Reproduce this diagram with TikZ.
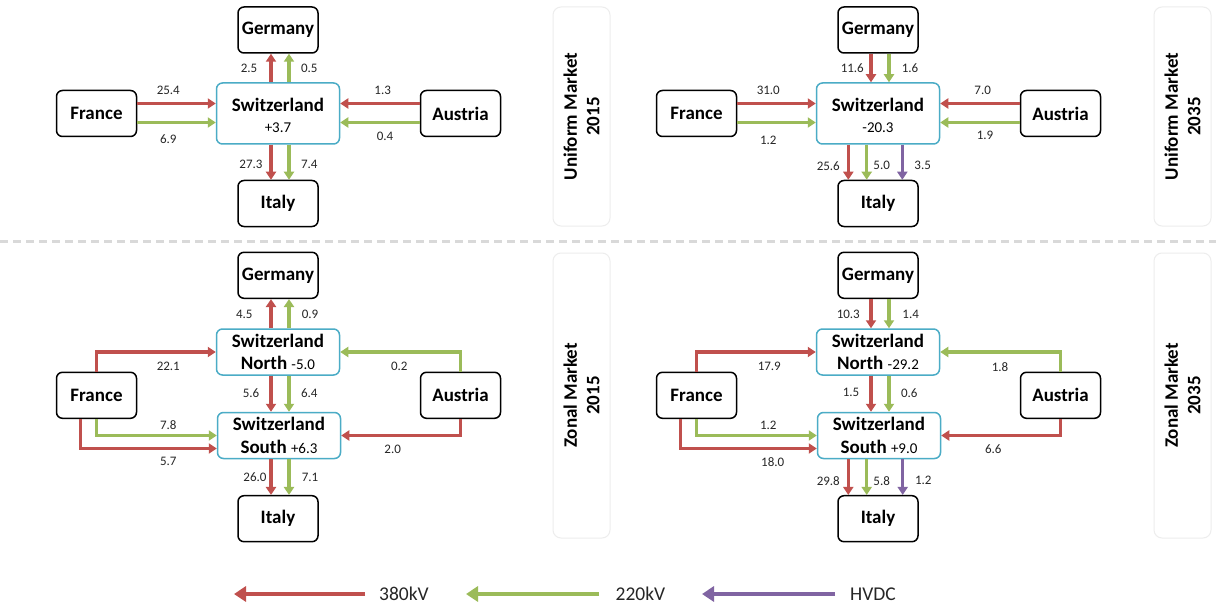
\documentclass[tikz,border=0pt]{standalone}
\usepackage{fontspec}
\setmainfont{Carlito}
\usetikzlibrary{arrows.meta,calc}
\definecolor{cR}{HTML}{C0504D}
\definecolor{cG}{HTML}{9BBB59}
\definecolor{cP}{HTML}{8064A2}
\definecolor{cB}{HTML}{4BACC6}
\definecolor{lblc}{HTML}{262626}
\tikzset{
  country/.style={draw=black, line width=1.5pt, rounded corners=6pt, minimum width=80pt, minimum height=46pt, font=\fontsize{19}{22}\selectfont\bfseries, inner sep=0pt, fill=white},
  swiss/.style={draw=cB, line width=1.5pt, rounded corners=6pt, minimum width=123pt, inner sep=0pt, align=center, fill=white, font=\fontsize{19}{22.5}\selectfont},
  swisstop/.style={swiss, minimum height=61pt, font=\fontsize{19}{21}\selectfont},
  flow/.style={line width=3.2pt, -{Triangle[length=8pt,width=10pt]}},
  arR/.style={flow, draw=cR},
  arG/.style={flow, draw=cG},
  arP/.style={flow, draw=cP},
  lbl/.style={font=\fontsize{13}{15}\selectfont, text=lblc, inner sep=0pt},
  side/.style={draw=black!7, line width=1pt, rounded corners=8pt, fill=white, rotate=90, align=center, minimum height=57pt, font=\fontsize{19}{22.5}\selectfont\bfseries},
  legarrow/.style={line width=4.6pt, -{Triangle[length=12pt,width=15pt]}},
  legtext/.style={font=\fontsize{19.5}{22}\selectfont, text=lblc, inner sep=0pt},
}
\newcommand{\num}[1]{{\fontsize{15}{22.5}\selectfont #1}}
\newcommand{\toppush}{\rule{0pt}{16.5pt}}
\begin{document}
\begin{tikzpicture}[x=1pt,y=-1pt]
\useasboundingbox[fill=white] (0,0) rectangle (1216,607);

% separator
\draw[black!15, line width=3pt, dash pattern=on 8pt off 5pt] (0,241.5) -- (1216,241.5);

% side labels
\node[side, minimum width=219pt] (s1) at (581.5,116.5) {Uniform Market\\2015};
\node[side, minimum width=219pt] (s2) at (1182.5,116.5) {Uniform Market\\2035};
\node[side, minimum width=285pt] (s3) at (581.5,395.5) {Zonal Market\\2015};
\node[side, minimum width=285pt] (s4) at (1182.5,395.5) {Zonal Market\\2035};

% ===== Panel 1: Uniform 2015 =====
\node[country] (de1) at (278,30) {Germany};
\node[country] (fr1) at (96.5,113.5) {France};
\node[country] (at1) at (460.5,113.5) {Austria};
\node[country] (it1) at (278,203.5) {Italy};
\node[swisstop] (sw1) at (278,113.5) {\toppush\textbf{Switzerland}\\\num{+3.7}};
\draw[arR] ([xshift=-7pt]sw1.north) -- ([xshift=-7pt]de1.south);
\draw[arG] ([xshift=11pt]sw1.north) -- ([xshift=11pt]de1.south);
\draw[arR] ([yshift=10pt]fr1.east) -- ([yshift=10pt]sw1.west);
\draw[arG] ([yshift=-9pt]fr1.east) -- ([yshift=-9pt]sw1.west);
\draw[arR] ([yshift=10pt]at1.west) -- ([yshift=10pt]sw1.east);
\draw[arG] ([yshift=-9pt]at1.west) -- ([yshift=-9pt]sw1.east);
\draw[arR] ([xshift=-7pt]sw1.south) -- ([xshift=-7pt]it1.north);
\draw[arG] ([xshift=11pt]sw1.south) -- ([xshift=11pt]it1.north);
\node[lbl] (l1a) at (249,68) {2.5};
\node[lbl] (l1b) at (309.3,68) {0.5};
\node[lbl] (l1c) at (168.3,90.7) {25.4};
\node[lbl] (l1d) at (168.3,139.3) {6.9};
\node[lbl] (l1e) at (382.7,90.7) {1.3};
\node[lbl] (l1f) at (385,136) {0.4};
\node[lbl] (l1g) at (251,164) {27.3};
\node[lbl] (l1h) at (309.3,164) {7.4};

% ===== Panel 2: Uniform 2035 =====
\node[country] (de2) at (878,30) {Germany};
\node[country] (fr2) at (696.5,113.5) {France};
\node[country] (at2) at (1060.5,113.5) {Austria};
\node[country] (it2) at (878,203.5) {Italy};
\node[swisstop] (sw2) at (878,113.5) {\toppush\textbf{Switzerland}\\\num{-20.3}};
\draw[arR] ([xshift=-7pt]de2.south) -- ([xshift=-7pt]sw2.north);
\draw[arG] ([xshift=11pt]de2.south) -- ([xshift=11pt]sw2.north);
\draw[arR] ([yshift=10pt]fr2.east) -- ([yshift=10pt]sw2.west);
\draw[arG] ([yshift=-9pt]fr2.east) -- ([yshift=-9pt]sw2.west);
\draw[arR] ([yshift=10pt]at2.west) -- ([yshift=10pt]sw2.east);
\draw[arG] ([yshift=-9pt]at2.west) -- ([yshift=-9pt]sw2.east);
\draw[arR] ([xshift=-29.7pt]sw2.south) -- ([xshift=-29.7pt]it2.north);
\draw[arG] ([xshift=-11.3pt]sw2.south) -- ([xshift=-11.3pt]it2.north);
\draw[arP] ([xshift=24.3pt]sw2.south) -- ([xshift=24.3pt]it2.north);
\node[lbl] (l2a) at (852.3,68.3) {11.6};
\node[lbl] (l2b) at (910,68.3) {1.6};
\node[lbl] (l2c) at (768.3,90.7) {31.0};
\node[lbl] (l2d) at (768.3,140) {1.2};
\node[lbl] (l2e) at (982.7,90.7) {7.0};
\node[lbl] (l2f) at (985,135) {1.9};
\node[lbl] (l2g) at (828.3,165.7) {25.6};
\node[lbl] (l2h) at (881.7,165.7) {5.0};
\node[lbl] (l2i) at (922.7,165.7) {3.5};

% ===== Panel 3: Zonal 2015 =====
\node[country] (de3) at (278,275.3) {Germany};
\node[country] (fr3) at (96.5,395.3) {France};
\node[country] (at3) at (460.5,395.3) {Austria};
\node[country] (it3) at (278,518.7) {Italy};
\node[swiss, minimum height=46pt] (swn3) at (278,352) {\textbf{Switzerland}\\\textbf{North} \num{-5.0}};
\node[swiss, minimum height=46pt] (sws3) at (279,435.5) {\textbf{Switzerland}\\\textbf{South} \num{+6.3}};
\draw[arR] ([xshift=-7pt]swn3.north) -- ([xshift=-7pt]de3.south);
\draw[arG] ([xshift=11pt]swn3.north) -- ([xshift=11pt]de3.south);
\draw[arR] ([xshift=-7pt]swn3.south) -- ([xshift=-8pt]sws3.north);
\draw[arG] ([xshift=11pt]swn3.south) -- ([xshift=10pt]sws3.north);
\draw[arR] ([xshift=-8pt]sws3.south) -- ([xshift=-7pt]it3.north);
\draw[arG] ([xshift=10pt]sws3.south) -- ([xshift=11pt]it3.north);
\draw[arR] (fr3.north) |- (swn3.west);
\draw[arG] (fr3.south) |- (sws3.west);
\draw[arR] ([xshift=-16pt]fr3.south) |- ([yshift=-13pt]sws3.west);
\draw[arG] (at3.north) |- (swn3.east);
\draw[arR] (at3.south) |- (sws3.east);
\node[lbl] (l3a) at (244.3,314) {4.5};
\node[lbl] (l3b) at (310,314) {0.9};
\node[lbl] (l3c) at (168.3,366.7) {22.1};
\node[lbl] (l3d) at (399.3,366.7) {0.2};
\node[lbl] (l3e) at (251,392.7) {5.6};
\node[lbl] (l3f) at (309.3,392.7) {6.4};
\node[lbl] (l3g) at (168.3,425) {7.8};
\node[lbl] (l3h) at (168.3,461.7) {5.7};
\node[lbl] (l3i) at (392.7,449) {2.0};
\node[lbl] (l3j) at (255,477.3) {26.0};
\node[lbl] (l3k) at (310,477.3) {7.1};

% ===== Panel 4: Zonal 2035 =====
\node[country] (de4) at (878,275.3) {Germany};
\node[country] (fr4) at (696.5,395.3) {France};
\node[country] (at4) at (1060.5,395.3) {Austria};
\node[country] (it4) at (878,518.7) {Italy};
\node[swiss, minimum height=46pt] (swn4) at (878,352) {\textbf{Switzerland}\\\textbf{North} \num{-29.2}};
\node[swiss, minimum height=46pt] (sws4) at (879,435.5) {\textbf{Switzerland}\\\textbf{South} \num{+9.0}};
\draw[arR] ([xshift=-7pt]de4.south) -- ([xshift=-7pt]swn4.north);
\draw[arG] ([xshift=11pt]de4.south) -- ([xshift=11pt]swn4.north);
\draw[arR] ([xshift=-7pt]swn4.south) -- ([xshift=-8pt]sws4.north);
\draw[arG] ([xshift=11pt]swn4.south) -- ([xshift=10pt]sws4.north);
\draw[arR] ([xshift=-30.7pt]sws4.south) -- ([xshift=-29.7pt]it4.north);
\draw[arG] ([xshift=-12.3pt]sws4.south) -- ([xshift=-11.3pt]it4.north);
\draw[arP] ([xshift=23.7pt]sws4.south) -- ([xshift=24.7pt]it4.north);
\draw[arR] (fr4.north) |- (swn4.west);
\draw[arG] (fr4.south) |- (sws4.west);
\draw[arR] ([xshift=-16pt]fr4.south) |- ([yshift=-13pt]sws4.west);
\draw[arG] (at4.north) |- (swn4.east);
\draw[arR] (at4.south) |- (sws4.east);
\node[lbl] (l4a) at (848.3,314) {10.3};
\node[lbl] (l4b) at (910.7,314) {1.4};
\node[lbl] (l4c) at (769.3,366.7) {17.9};
\node[lbl] (l4d) at (1000,366.7) {1.8};
\node[lbl] (l4e) at (851,392.7) {1.5};
\node[lbl] (l4f) at (909.3,392.7) {0.6};
\node[lbl] (l4g) at (768.3,425) {1.2};
\node[lbl] (l4h) at (772.7,461.7) {18.0};
\node[lbl] (l4i) at (993.3,449) {6.6};
\node[lbl] (l4j) at (828.3,480.7) {29.8};
\node[lbl] (l4k) at (881.7,480.7) {5.8};
\node[lbl] (l4l) at (923.3,480.7) {1.2};

% ===== Legend =====
\coordinate (lgR1) at (365,594); \coordinate (lgR0) at (234,594);
\coordinate (lgG1) at (599,594); \coordinate (lgG0) at (466,594);
\coordinate (lgP1) at (835,594); \coordinate (lgP0) at (702,594);
\draw[legarrow, draw=cR] (lgR1) -- (lgR0);
\draw[legarrow, draw=cG] (lgG1) -- (lgG0);
\draw[legarrow, draw=cP] (lgP1) -- (lgP0);
\node[legtext] (lgRt) at (404,594) {380kV};
\node[legtext] (lgGt) at (640.5,594) {220kV};
\node[legtext] (lgPt) at (873,594) {HVDC};
\end{tikzpicture}
\end{document}
